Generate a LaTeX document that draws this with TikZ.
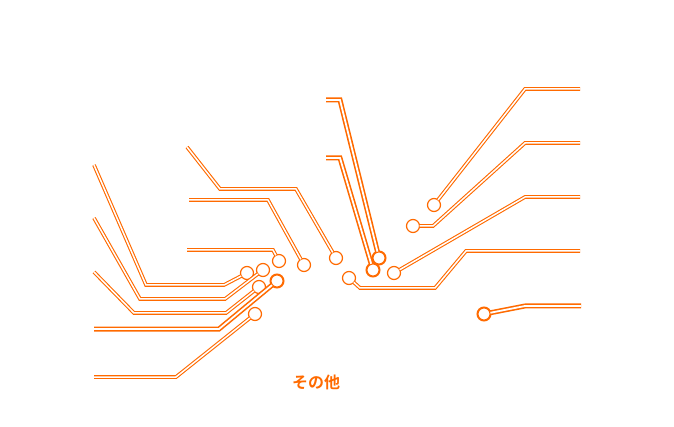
\documentclass[tikz,border=0pt]{standalone}
\usepackage{fontspec}
\newfontfamily\cjk{Noto Sans CJK JP}[BoldFont={Noto Sans CJK JP Bold}]
\usepackage{tikz}
\usetikzlibrary{positioning}
\definecolor{naranja}{RGB}{255,106,0}
\tikzstyle{trace} =[draw=naranja, double=white, line width=1.1pt,
                    double distance=1.5pt, line join=miter]
\tikzstyle{btrace}=[draw=naranja, double=white, line width=1.6pt,
                    double distance=1.8pt, line join=miter]
\tikzstyle{pad}   =[circle, draw=naranja, fill=white, minimum size=13pt,
                    line width=1.2pt, inner sep=0pt, outer sep=0pt]
\tikzstyle{bpad}  =[circle, draw=naranja, fill=white, minimum size=13pt,
                    line width=2pt, inner sep=0pt, outer sep=0pt]

\begin{document}
\begin{tikzpicture}[x=1pt,y=-1pt]
    \useasboundingbox (0,0) rectangle (674,427);

    % pads
    \foreach \n/\x/\y in {1/247/273, 2/263/270, 3/259/287, 5/255/314,
                          6/336/258, 7/304/265, 8/279/261, 11/349/278,
                          12/434/205, 13/413/226, 14/394/273}
        \node(p\n)[pad] at (\x,\y) {};
    \foreach \n/\x/\y in {4/277/281, 9/379/258, 10/373/270, 15/484/314}
        \node(p\n)[bpad] at (\x,\y) {};

    % left traces
    \draw [trace] (94,165) -- (146,285) -- (224,285) -- (p1);
    \draw [trace] (94,218) -- (140,299) -- (225,299) -- (p2);
    \draw [trace] (94,272) -- (134,313) -- (226,313) -- (p3);
    \draw [btrace] (94,329) -- (219,329) -- (p4);
    \draw [trace] (94,377) -- (176,377) -- (p5);
    \draw [trace] (187,147) -- (220,189) -- (296,189) -- (p6);
    \draw [trace] (189,200) -- (268,200) -- (p7);
    \draw [trace] (187,250) -- (273,250) -- (p8);

    % middle traces
    \draw [btrace] (326,100) -- (340,100) -- (p9);
    \draw [btrace] (326,158) -- (340,158) -- (p10);
    \draw [trace] (p11) -- (360,288) -- (435,288) -- (466,251) -- (580,251);

    % right traces
    \draw [trace] (p12) -- (525,89) -- (580,89);
    \draw [trace] (p13) -- (433,226) -- (525,143) -- (580,143);
    \draw [trace] (p14) -- (525,197) -- (580,197);
    \draw [btrace] (p15) -- (525,306) -- (581,306);

    \node(etiqueta) at (316,382) {\cjk\bfseries\fontsize{16}{18}\selectfont\color{naranja}その他};
\end{tikzpicture}
\end{document}
